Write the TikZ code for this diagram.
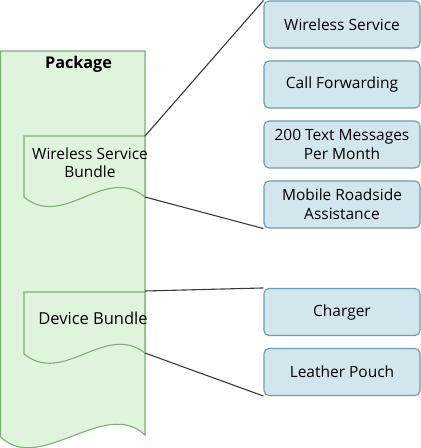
\documentclass[tikz,border=0pt]{standalone}
\usepackage{fontspec}
\setmainfont{Open Sans}
\begin{document}
\begin{tikzpicture}[x=1pt,y=-1pt,
  pkg/.style={draw=pkgline,fill=pkgfill,line width=1.1pt},
  itembox/.style={draw=boxline,fill=boxfill,line width=1.1pt,rounded corners=5pt,
    minimum width=156pt,minimum height=47pt,inner sep=0pt,align=center,
    font=\fontsize{15.5}{19}\selectfont},
  lbl/.style={align=center,inner sep=0pt,font=\fontsize{15.5}{18}\selectfont},
  conn/.style={draw=connline,line width=1.1pt}]
\definecolor{pkgfill}{HTML}{E0F3DC}
\definecolor{pkgline}{HTML}{7FAE78}
\definecolor{boxfill}{HTML}{D3E6EE}
\definecolor{boxline}{HTML}{6A9DAE}
\definecolor{connline}{HTML}{3A3A3A}
\useasboundingbox (0,0) rectangle (421,448);
% package
\path[pkg] (0.6,51) -- (145,51) -- (145,435)
  .. controls (105,397) and (40,475) .. (0.6,437) -- cycle;
\node[font=\fontsize{16.2}{19}\selectfont\bfseries,inner sep=0pt] (pkgtitle) at (78.5,64) {Package};
% wireless service bundle
\path[pkg] (24,136) -- (145,136) -- (145,197)
  .. controls (105,164) and (64,230) .. (24,197) -- cycle;
\coordinate (wsbtop) at (145,136);
\coordinate (wsbbot) at (145,197);
\node[lbl] (wsb) at (90,163) {Wireless Service\\Bundle};
% device bundle
\path[pkg] (24,292) -- (145,292) -- (145,353)
  .. controls (105,322) and (64,386) .. (24,354) -- cycle;
\coordinate (dbtop) at (145,291);
\coordinate (dbbot) at (145,353);
\node[lbl,font=\fontsize{16.5}{19}\selectfont] (db) at (93,318) {Device Bundle};
% boxes
\node[itembox] (b1) at (342,24.5) {Wireless Service};
\node[itembox] (b2) at (342,84.5) {Call Forwarding};
\node[itembox] (b3) at (342,144.5) {200 Text Messages\\Per Month};
\node[itembox] (b4) at (342,204.5) {Mobile Roadside\\Assistance};
\node[itembox] (b5) at (342,312) {Charger};
\node[itembox] (b6) at (342,372) {Leather Pouch};
% connectors
\draw[conn] (wsbtop) -- (b1.north west);
\draw[conn] (wsbbot) -- (b4.south west);
\draw[conn] (dbtop) -- (b5.north west);
\draw[conn] (dbbot) -- (b6.south west);
\end{tikzpicture}
\end{document}
